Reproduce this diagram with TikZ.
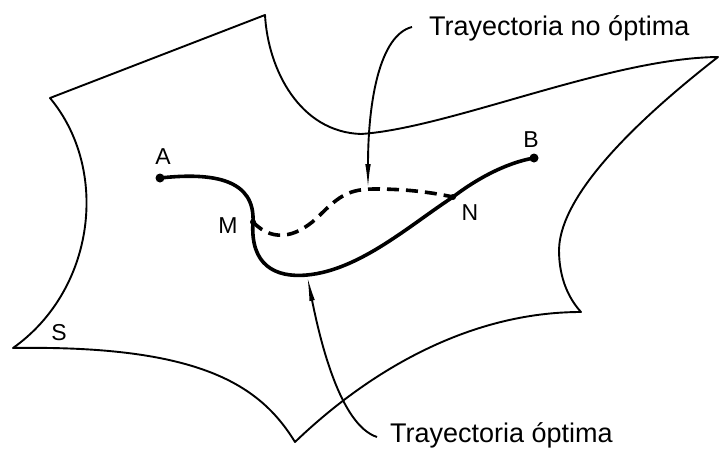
\documentclass[tikz,border=0pt]{standalone}
\usepackage{fontspec}
\setmainfont{Liberation Sans}
\usetikzlibrary{arrows.meta}
\begin{document}
\begin{tikzpicture}[x=1pt,y=-1pt,
  surf/.style={line width=1.9pt, line join=round},
  traj/.style={line width=3.6pt, line cap=round},
  dashtraj/.style={line width=3.6pt, dash pattern=on 12pt off 7pt},
  leader/.style={line width=1.9pt, -{Latex[length=26pt,width=5.5pt]}},
  ptlabel/.style={font=\fontsize{23}{23}\selectfont, inner sep=0pt},
  caption/.style={font=\fontsize{27}{27}\selectfont, inner sep=0pt, anchor=base west},
  bigdot/.style={circle, fill, inner sep=0pt, minimum size=9pt},
  smalldot/.style={circle, fill, inner sep=0pt, minimum size=6pt}]
\useasboundingbox (0,0) rectangle (722,450);

% surface S
\draw[surf] (50,98) -- (265,15)
  .. controls (268,70) and (300,132) .. (361,134)
  .. controls (450,128) and (610,58) .. (718,57)
  .. controls (650,110) and (560,190) .. (559,250)
  .. controls (559,280) and (570,300) .. (581,312)
  .. controls (470,312) and (370,370) .. (295,442)
  .. controls (260,385) and (200,345) .. (13,348)
  .. controls (95,290) and (110,170) .. cycle;

% points
\coordinate (A) at (160,178);
\coordinate (B) at (534,158);
\coordinate (M) at (253,222);
\coordinate (N) at (453,197);
\coordinate (P) at (307,275);
\coordinate (Q) at (368,190);

% trajectories
\draw[traj] (A) .. controls (215,172) and (255,180) .. (M)
  .. controls (250,265) and (275,278) .. (P)
  .. controls (360,270) and (410,225) .. (N)
  .. controls (475,180) and (505,163) .. (B);
\draw[dashtraj] (M) .. controls (275,245) and (300,235) .. (320,215)
  .. controls (340,195) and (350,189) .. (375,189)
  .. controls (405,189) and (430,192) .. (N);

\node[bigdot] (dA) at (A) {};
\node[bigdot] (dB) at (B) {};
\node[smalldot] (dM) at (M) {};
\node[smalldot] (dN) at (N) {};

% labels
\node[ptlabel] (lA) at (163,157) {A};
\node[ptlabel] (lB) at (531,140) {B};
\node[ptlabel] (lM) at (228,226) {M};
\node[ptlabel] (lN) at (470,213) {N};
\node[ptlabel] (lS) at (59,333) {S};

% captions and leaders
\node[caption] (tno) at (429,35) {Trayectoria no óptima};
\node[caption] (topt) at (390,442) {Trayectoria óptima};
\coordinate (tnoend) at (412,27);
\coordinate (toptend) at (377,437);
\draw[leader] (tnoend) .. controls (380,35) and (368,100) .. (Q);
\draw[leader] (toptend) .. controls (340,425) and (320,340) .. (P);
\end{tikzpicture}
\end{document}
